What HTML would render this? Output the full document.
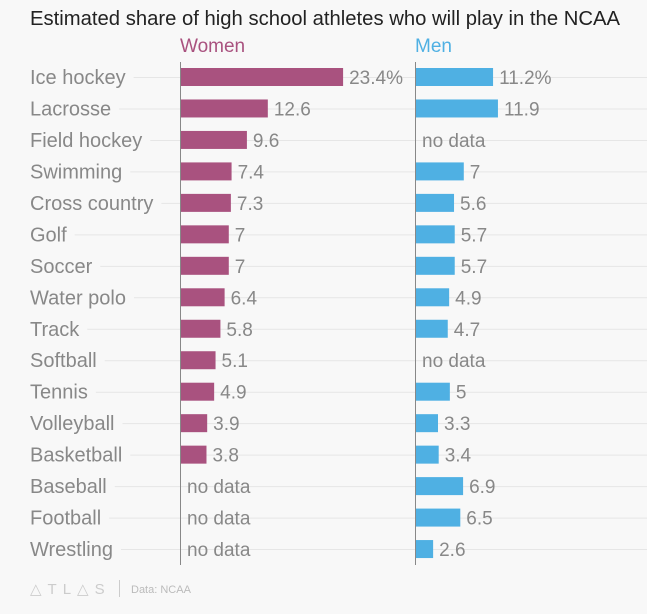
<!DOCTYPE html>
<html><head><meta charset="utf-8"><style>
body{margin:0;background:#f8f8f8;}
svg{display:block;font-family:"Liberation Sans",sans-serif;}
</style></head><body>
<svg id="c" width="647" height="614">
<rect width="647" height="614" fill="#f8f8f8"/>
<text x="30" y="25" font-size="20" textLength="590" lengthAdjust="spacingAndGlyphs" fill="#222">Estimated share of high school athletes who will play in the NCAA</text>
<text x="180" y="52" font-size="19" fill="#a9527f">Women</text>
<text x="415" y="52" font-size="19" fill="#4fb0e3">Men</text>
<g id="grid"></g><g id="bars"></g>
<line x1="180.5" y1="62" x2="180.5" y2="565" stroke="#888"/>
<line x1="415.5" y1="62" x2="415.5" y2="565" stroke="#888"/>
<text x="30" y="594" font-size="15" fill="#ccc" letter-spacing="6">△TL△S</text>
<line x1="119.5" y1="580" x2="119.5" y2="597" stroke="#ccc"/>
<text x="131" y="593" font-size="11" fill="#bbb">Data: NCAA</text>
</svg>
<script>
const categories=["Ice hockey","Lacrosse","Field hockey","Swimming","Cross country","Golf","Soccer","Water polo","Track","Softball","Tennis","Volleyball","Basketball","Baseball","Football","Wrestling"];
const women=[23.4,12.6,9.6,7.4,7.3,7,7,6.4,5.8,5.1,4.9,3.9,3.8,null,null,null];
const men=[11.2,11.9,null,7,5.6,5.7,5.7,4.9,4.7,null,5,3.3,3.4,6.9,6.5,2.6];
const NS="http://www.w3.org/2000/svg";
const svg=document.getElementById('c'),grid=document.getElementById('grid'),bars=document.getElementById('bars');
const y=i=>77+i*31.47;
const x=v=>v*6.97;
function el(t,a,p){const e=document.createElementNS(NS,t);for(const k in a)e.setAttribute(k,a[k]);p.appendChild(e);return e;}
function fmt(v,i){return i===0?v+"%":String(v);}
categories.forEach((c,i)=>{
  const cy=y(i);
  const lab=el('text',{x:30,y:cy+7,'font-size':20,fill:'#888'},svg);
  lab.textContent=c;
  
  
  const w=lab.getComputedTextLength();
  const g=el('line',{x1:30+w+8,x2:647,y1:cy+0.5,y2:cy+0.5,stroke:'#e6e6e6'},grid);
  
  
  [[women[i],181,'#a9527f','women'],[men[i],416,'#4fb0e3','men']].forEach(([v,x0,col,s])=>{
    if(v==null){
      const t=el('text',{x:x0+6,y:cy+7,'font-size':19,fill:'#888'},bars);
      t.textContent="no data";
      
      
      return;
    }
    const r=el('rect',{x:x0,y:cy-9,width:x(v)-1,height:18,fill:col},bars);
    
    
    const t=el('text',{x:x0+x(v)+5,y:cy+7,'font-size':19,fill:'#888'},bars);
    t.textContent=fmt(v,i);
    
    
  });
});
</script>
</body></html>
